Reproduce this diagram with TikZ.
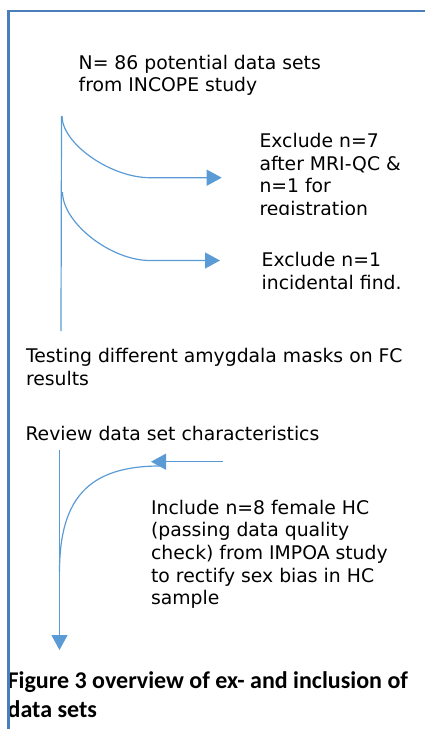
\documentclass[tikz,border=0pt]{standalone}
\usepackage{fontspec}
\setmainfont{DejaVu Sans}
\newfontfamily\capfont{Carlito}
\usetikzlibrary{arrows.meta}
\definecolor{framecol}{RGB}{74,126,187}
\definecolor{arrcol}{RGB}{91,155,213}
\tikzset{
  frameline/.style={draw=framecol, line width=2.4pt, line join=miter},
  conn/.style={draw=arrcol, line width=1.2pt},
  arrconn/.style={conn, -{Triangle[length=15pt,width=16pt]}},
  txt/.style={font=\fontsize{18.8}{22.7}\selectfont, inner sep=0pt, anchor=base west, text=black},
  captxt/.style={font=\capfont\bfseries\fontsize{24}{29}\selectfont, inner sep=0pt, anchor=base west, text=black}
}
\begin{document}
\begin{tikzpicture}[x=1pt,y=-1pt]
\useasboundingbox (0,0) rectangle (425,729);
% texts
\node[txt] (start) at (78.5,69) {\vtop{\hbox{N= 86 potential data sets}\hbox{from INCOPE study}}};
\begin{scope}
\clip (240,110) rectangle (425,214);
\node[txt] (excl1) at (259.3,147.3) {\vtop{\hbox{Exclude n=7}\hbox{after MRI-QC \&}\hbox{n=1 for}\hbox{registration}}};
\end{scope}
\node[txt] (excl2) at (261.5,266.7) {\vtop{\hbox{Exclude n=1}\hbox{incidental find.}}};
\node[txt] (test) at (25.8,362.3) {\vtop{\hbox{Testing different amygdala masks on FC}\hbox{results}}};
\node[txt] (review) at (25.3,440) {Review data set characteristics};
\node[txt] (incl) at (150.9,514) {\vtop{\hbox{Include n=8 female HC}\hbox{(passing data quality}\hbox{check) from IMPOA study}\hbox{to rectify sex bias in HC}\hbox{sample}}};
\node[captxt] (cap) at (7.5,688) {\vtop{\hbox{Figure 3 overview of ex- and inclusion of}\hbox{data sets}}};
% coordinates
\coordinate (v1t) at (61.5,116);
\coordinate (v1b) at (61,331);
\coordinate (c1s) at (62,116);
\coordinate (c1e) at (150,177.7);
\coordinate (a1t) at (221.7,177.7);
\coordinate (c2s) at (62.5,192);
\coordinate (c2e) at (150,260.5);
\coordinate (a2t) at (220,260.5);
\coordinate (v2t) at (59.5,450);
\coordinate (v2b) at (59.5,650);
\coordinate (c3s) at (59.5,572);
\coordinate (c3e) at (160,466);
\coordinate (a3s) at (223,461.7);
\coordinate (a3t) at (151,461.7);
% connectors
\draw[conn] (v1t) -- (v1b);
\draw[arrconn] (c1s) .. controls (62,143.5) and (110.4,177.7) .. (c1e) -- (a1t);
\draw[arrconn] (c2s) .. controls (62.5,222.6) and (110.4,260.5) .. (c2e) -- (a2t);
\draw[arrconn] (v2t) -- (v2b);
\draw[conn] (c3s) .. controls (59.5,498) and (89,466) .. (c3e);
\draw[arrconn] (a3s) -- (a3t);
% frame
\coordinate (fb) at (8.6,729);
\coordinate (fc) at (8.6,11.2);
\coordinate (fr) at (425,11.2);
\draw[frameline] (fb) -- (fc) -- (fr);
\end{tikzpicture}
\end{document}
